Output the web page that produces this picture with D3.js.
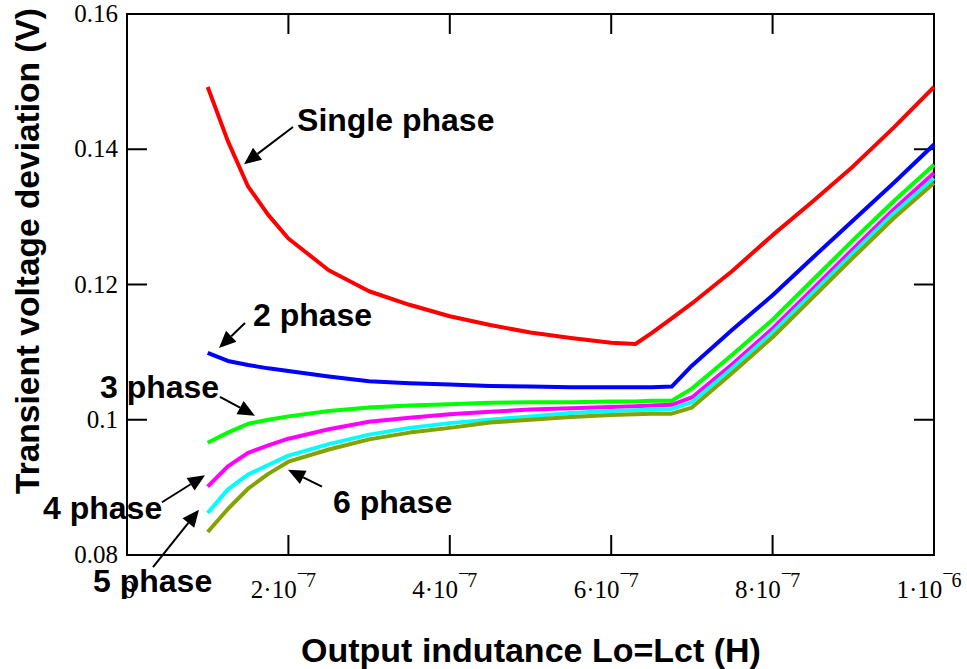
<!DOCTYPE html>
<html>
<head>
<meta charset="utf-8">
<script src="https://cdn.jsdelivr.net/npm/d3@7"></script>
<style>
    body { margin: 0; background: #ffffff; }
    svg { display: block; }
</style>
</head>
<body>
<svg id="chart" width="967" height="669"></svg>
<script>
// Output inductance grid, in units of 1e-7 H
let inductance = [1, 1.25, 1.5, 1.75, 2, 2.5, 3, 3.5, 4, 4.5, 5, 5.5, 6, 6.3, 6.5, 6.75, 7, 7.5, 8, 8.5, 9, 9.5, 10]

// Transient voltage deviation (V) for each phase count
let phase1 = [0.1492, 0.1412, 0.1345, 0.1303, 0.1268, 0.1221, 0.1190, 0.1170, 0.1153, 0.1140, 0.1129, 0.1121, 0.1114, 0.1112, 0.1128, 0.1150, 0.1172, 0.1220, 0.1273, 0.1323, 0.1375, 0.1432, 0.1492]
let phase2 = [0.1099, 0.1087, 0.1081, 0.1076, 0.1072, 0.1064, 0.1057, 0.1054, 0.1052, 0.1050, 0.1049, 0.1048, 0.1048, 0.1048, 0.1048, 0.1049, 0.1080, 0.1133, 0.1184, 0.1240, 0.1295, 0.1350, 0.1407]
let phase3 = [0.0966, 0.0981, 0.0994, 0.1000, 0.1005, 0.1013, 0.1018, 0.1021, 0.1023, 0.1025, 0.1026, 0.1026, 0.1027, 0.1027, 0.1028, 0.1028, 0.1046, 0.1096, 0.1148, 0.1207, 0.1266, 0.1323, 0.1377]
let phase4 = [0.0901, 0.0931, 0.0951, 0.0962, 0.0972, 0.0986, 0.0997, 0.1003, 0.1008, 0.1012, 0.1015, 0.1017, 0.1019, 0.1020, 0.1021, 0.1022, 0.1033, 0.1082, 0.1135, 0.1194, 0.1253, 0.1311, 0.1365]
let phase5 = [0.0862, 0.0897, 0.0919, 0.0933, 0.0947, 0.0964, 0.0978, 0.0988, 0.0995, 0.1000, 0.1005, 0.1010, 0.1013, 0.1014, 0.1015, 0.1016, 0.1026, 0.1076, 0.1129, 0.1188, 0.1247, 0.1305, 0.1357]
let phase6 = [0.0834, 0.0868, 0.0898, 0.0920, 0.0938, 0.0956, 0.0971, 0.0981, 0.0988, 0.0996, 0.1000, 0.1004, 0.1007, 0.1008, 0.1009, 0.1009, 0.1018, 0.1069, 0.1122, 0.1181, 0.1240, 0.1298, 0.1350]

let seriesNames = ['Single phase', '2 phase', '3 phase', '4 phase', '5 phase', '6 phase']
let seriesColors = ['#ff0000', '#0000ff', '#00ff00', '#ff00ff', '#00ffff', '#84a300']

let xTicks = [0, 2e-7, 4e-7, 6e-7, 8e-7, 1e-6]
let xTickMantissa = ['0', '2', '4', '6', '8', '1']
let xTickExponent = ['', '7', '7', '7', '7', '6']
let yTicks = [0.08, 0.1, 0.12, 0.14, 0.16]
let yTickLabels = ['0.08', '0.1', '0.12', '0.14', '0.16']

// Callout labels and arrows, in data units (x in H, y in V)
let labelX = [2.107e-7, 1.561e-7, -0.335e-7, -1.041e-7, -0.421e-7, 2.553e-7]
let labelY = [0.1427, 0.1139, 0.1032, 0.0853, 0.0745, 0.0862]
let arrowFromX = [2.057e-7, 1.462e-7, 1.152e-7, 0.434e-7, 0.322e-7, 2.416e-7]
let arrowFromY = [0.1433, 0.1143, 0.1034, 0.0878, 0.0782, 0.0901]
let arrowTipX = [1.45e-7, 1.14e-7, 1.586e-7, 0.967e-7, 0.892e-7, 1.995e-7]
let arrowTipY = [0.1378, 0.1106, 0.1006, 0.0918, 0.0867, 0.0926]

let margin = { top: 14, right: 33, bottom: 114, left: 127 }
let width = 967 - margin.left - margin.right
let height = 669 - margin.top - margin.bottom

let svg = d3.select('#chart')
let g = svg.append('g')
    .attr('transform', 'translate(' + margin.left + ',' + margin.top + ')')

let x = d3.scaleLinear().domain([0, 1e-6]).range([0, width])
let y = d3.scaleLinear().domain([0.08, 0.16]).range([height, 0])

let serifFont = "'Liberation Serif', 'Times New Roman', serif"
let sansFont = "'Liberation Sans', Arial, sans-serif"
let tickLen = 20

// Frame
g.append('rect')
    .attr('x', 0)
    .attr('y', 0)
    .attr('width', width)
    .attr('height', height)
    .attr('fill', 'none')
    .attr('stroke', '#000')
    .attr('stroke-width', 2)

// Inward ticks on all four sides
let tickG = g.append('g')
    .attr('stroke', '#000')
    .attr('stroke-width', 2)

xTicks.forEach(function (t) {
    tickG.append('line')
        .attr('x1', x(t)).attr('x2', x(t))
        .attr('y1', height).attr('y2', height - tickLen)
    tickG.append('line')
        .attr('x1', x(t)).attr('x2', x(t))
        .attr('y1', 0).attr('y2', tickLen)
})
yTicks.forEach(function (t) {
    tickG.append('line')
        .attr('x1', 0).attr('x2', tickLen)
        .attr('y1', y(t)).attr('y2', y(t))
    tickG.append('line')
        .attr('x1', width).attr('x2', width - tickLen)
        .attr('y1', y(t)).attr('y2', y(t))
})

// Y tick labels
g.selectAll('.y-label')
    .data(yTicks)
    .enter()
    .append('text')
    .attr('class', 'y-label')
    .attr('x', -9)
    .attr('y', d => y(d) + 8)
    .attr('text-anchor', 'end')
    .style('font-family', serifFont)
    .style('font-size', '25px')
    .text((d, i) => yTickLabels[i])

// X tick labels, mantissa·10 with a raised exponent
xTicks.forEach(function (t, i) {
    let label = g.append('text')
        .attr('x', i == 0 ? x(t) + 2 : x(t) - 5)
        .attr('y', height + 43)
        .attr('text-anchor', 'middle')
        .style('font-family', serifFont)
        .style('font-size', '25px')
    if (xTickExponent[i] == '') {
        label.text(xTickMantissa[i])
        return
    }
    label.append('tspan').text(xTickMantissa[i] + '\u00b710')
    label.append('tspan')
        .attr('dy', -18)
        .style('font-size', '20px')
        .text('\u2212')
    label.append('tspan')
        .attr('dy', 7)
        .attr('dx', -2)
        .style('font-size', '20px')
        .text(xTickExponent[i])
})

// Curves
let allSeries = [phase1, phase2, phase3, phase4, phase5, phase6]
let line = d3.line()
    .x(d => x(d[0] * 1e-7))
    .y(d => y(d[1]))

allSeries.forEach(function (vals, s) {
    g.append('path')
        .datum(inductance.map((l, i) => [l, vals[i]]))
        .attr('class', 'series')
        .attr('fill', 'none')
        .attr('stroke', seriesColors[s])
        .attr('stroke-width', 4)
        .attr('stroke-linejoin', 'round')
        .attr('d', line)
})

// Axis titles
svg.append('text')
    .attr('transform', 'translate(39,251) rotate(-90)')
    .attr('text-anchor', 'middle')
    .style('font-family', sansFont)
    .style('font-weight', 'bold')
    .style('font-size', '33.5px')
    .text('Transient voltage deviation (V)')

svg.append('text')
    .attr('x', 531)
    .attr('y', 662)
    .attr('text-anchor', 'middle')
    .style('font-family', sansFont)
    .style('font-weight', 'bold')
    .style('font-size', '34px')
    .text('Output indutance Lo=Lct (H)')

// Callouts
let annG = g.append('g')
seriesNames.forEach(function (name, i) {
    let x0 = x(arrowFromX[i])
    let y0 = y(arrowFromY[i])
    let x1 = x(arrowTipX[i])
    let y1 = y(arrowTipY[i])
    let len = Math.hypot(x1 - x0, y1 - y0)
    let ux = (x1 - x0) / len
    let uy = (y1 - y0) / len
    let headLen = 17
    let headHalf = 7.5
    let bx = x1 - ux * headLen
    let by = y1 - uy * headLen

    annG.append('line')
        .attr('x1', x0).attr('y1', y0)
        .attr('x2', bx).attr('y2', by)
        .attr('stroke', '#000')
        .attr('stroke-width', 2)
    annG.append('polygon')
        .attr('points', [
            [x1, y1],
            [bx - uy * headHalf, by + ux * headHalf],
            [bx + uy * headHalf, by - ux * headHalf]
        ].map(p => p.join(',')).join(' '))
        .attr('fill', '#000')

    annG.append('text')
        .attr('x', x(labelX[i]))
        .attr('y', y(labelY[i]))
        .style('font-family', sansFont)
        .style('font-weight', 'bold')
        .style('font-size', '32px')
        .text(name)
})
</script>
</body>
</html>
